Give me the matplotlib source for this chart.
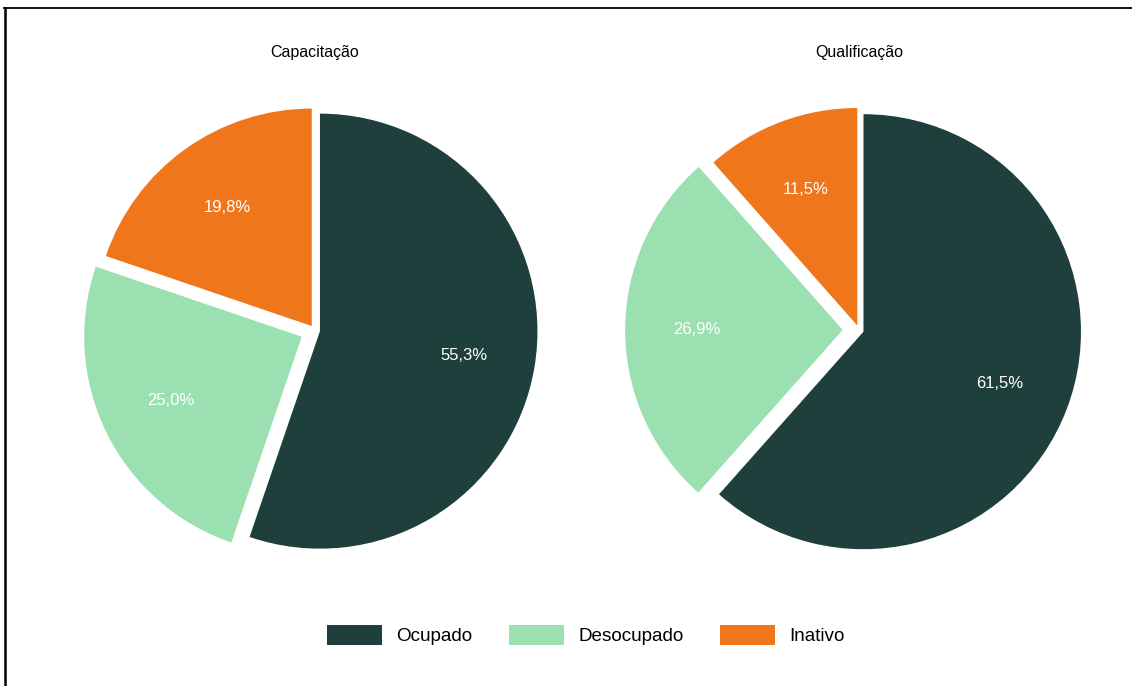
import math
import matplotlib
matplotlib.use("Agg")
import matplotlib.pyplot as plt
from matplotlib.lines import Line2D
from matplotlib.patches import Patch

plt.rcParams['font.family'] = ['Liberation Sans', 'DejaVu Sans']

# --- Data ---
situacoes = ['Ocupado', 'Desocupado', 'Inativo']
cursos = ['Capacitação', 'Qualificação']
capacitacao = [55.3, 25.0, 19.8]
qualificacao = [61.5, 26.9, 11.5]
cores = ['#1e3f3c', '#9ae0b0', '#ef761b']

W, H = 1132, 686
fig = plt.figure(figsize=(W / 100, H / 100), dpi=100)

# pie centres in pixels (x from left, y from top), radius in px
centros = [(314.8, 330.3), (859, 330)]
raio = 217.5
lim = 1.15
# the Desocupado slice is pulled further out than the others
explodes = [[0.024, 0.067, 0.024], [0.022, 0.075, 0.022]]


def fmt_pct(v):
    return f"{v:.1f}%".replace('.', ',')


for (cx, cy), nome, valores, expl in zip(centros, cursos, [capacitacao, qualificacao], explodes):
    w = 2 * lim * raio
    ax = fig.add_axes([(cx - w / 2) / W, (H - cy - w / 2) / H, w / W, w / H])
    wedges, texts = ax.pie(
        valores, colors=cores, startangle=90, counterclock=False,
        explode=expl, radius=1.0,
        wedgeprops={'linewidth': 0},
    )
    # percentage labels placed on each wedge
    total = sum(valores)
    ang = 90.0
    for v, e in zip(valores, expl):
        span = 360.0 * v / total
        mid = math.radians(ang - span / 2)
        r = 0.67 + e
        ax.text(r * math.cos(mid), r * math.sin(mid), fmt_pct(v),
                ha='center', va='center', color='white', fontsize=12)
        ang -= span
    ax.set_xlim(-lim, lim)
    ax.set_ylim(-lim, lim)
    ax.set_aspect('auto')
    ax.axis('off')

    fig.text(cx / W, 1 - 53 / H, nome, ha='center', va='center', fontsize=11.5)

# legend along the bottom
handles = [Patch(facecolor=c, edgecolor='none', label=s) for c, s in zip(cores, situacoes)]
fig.legend(handles=handles, loc='center', bbox_to_anchor=(586 / W, 1 - 635 / H),
           ncol=3, frameon=False, fontsize=13.6, handlelength=2.91, handleheight=1.32,
           handletextpad=0.74, columnspacing=1.96)

# frame lines at top and left
fig.add_artist(Line2D([4 / W, 1], [1 - 8 / H, 1 - 8 / H], color='black', linewidth=1.3,
                      transform=fig.transFigure))
fig.add_artist(Line2D([5 / W, 5 / W], [0, 1 - 8 / H], color='black', linewidth=1.8,
                      transform=fig.transFigure))

fig.savefig('out.png', dpi=100)
